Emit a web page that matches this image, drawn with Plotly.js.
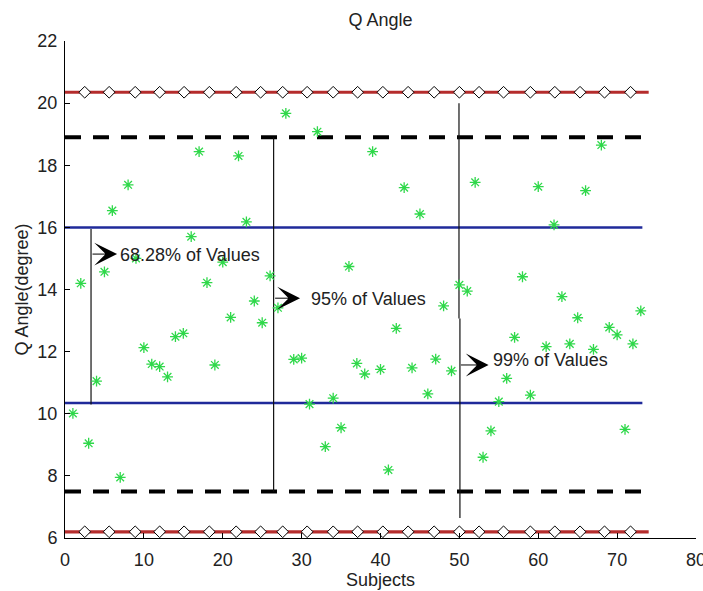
<!DOCTYPE html>
<html>
<head>
<meta charset="utf-8">
<script src="https://cdn.plot.ly/plotly-3.0.1.min.js"></script>
<style>html,body{margin:0;padding:0;background:#fff;}#chart{width:703px;height:591px;}</style>
</head>
<body>
<div id="chart"></div>
<script>
// ---- data ----
const subjects = [1,2,3,4,5,6,7,8,9,10,11,12,13,14,15,16,17,18,19,20,21,22,23,24,25,26,27,28,29,30,31,32,33,34,35,36,37,38,39,40,41,42,43,44,45,46,47,48,49,50,51,52,53,54,55,56,57,58,59,60,61,62,63,64,65,66,67,68,69,70,71,72,73];
const qAngle = [10.01,14.2,9.05,11.05,14.57,16.54,7.95,17.37,15.0,12.13,11.6,11.52,11.19,12.48,12.59,15.7,18.44,14.22,11.57,14.88,13.1,18.3,16.18,13.63,12.93,14.44,13.41,19.67,11.75,11.79,10.31,19.08,8.94,10.5,9.55,14.74,11.62,11.28,18.44,11.43,8.19,12.75,17.28,11.48,16.43,10.64,11.76,13.47,11.38,14.15,13.95,17.45,8.6,9.45,10.39,11.14,12.46,14.41,10.6,17.31,12.16,16.08,13.77,12.25,13.09,17.18,12.07,18.65,12.78,12.54,9.5,12.25,13.31];

const limits3 = [20.35, 6.2];    // red lines with diamonds
const limits3X = [0, 74];
const diamondX = [2.5,5.6,8.9,12.0,15.1,18.3,21.7,24.8,27.6,30.7,34.0,37.1,40.3,43.5,46.8,50.0,52.5,55.6,59.0,62.1,65.3,68.4,71.7];
const limits2 = [18.9, 7.5];     // black dashed lines
const limits2X = [0, 73.5];
const limits1 = [16.0, 10.35];   // blue lines
const limits1X = [0, 73.2];

// bracket lines: [x, yTop, yBottom]
const bracketX = [3.3, 26.45, 49.95, 50.07];
const bracketTop = [15.95, 18.9, 20.0, 13.07];
const bracketBottom = [10.3, 7.5, 13.07, 6.64];

// arrows and labels
const arrowTailX = [3.3, 26.45, 50.0];
const arrowHeadX = [6.6, 29.8, 53.7];
const arrowY = [15.14, 13.72, 11.57];
const labelX = [6.75, 30.9, 54.0];
const labelY = [15.12, 13.68, 11.72];
const labelText = ['68.28% of Values', '95% of Values', '99% of Values'];

const FONT = 'Liberation Sans, Arial, Helvetica, sans-serif';
const traces = [];

// red +-3 sigma lines
limits3.forEach(v => {
  traces.push({x: limits3X, y: [v, v], mode: 'lines', line: {color: '#b52c2c', width: 3.2}, hoverinfo: 'skip', showlegend: false});
  traces.push({x: diamondX, y: diamondX.map(() => v), mode: 'markers',
    marker: {symbol: 'diamond', size: 9, color: '#ffffff', line: {color: '#000000', width: 1}}, hoverinfo: 'skip', showlegend: false});
});
// dashed lines
limits2.forEach(v => {
  traces.push({x: limits2X, y: [v, v], mode: 'lines', line: {color: '#000000', width: 4, dash: '16px,12px'}, hoverinfo: 'skip', showlegend: false});
});
// blue lines
limits1.forEach(v => {
  traces.push({x: limits1X, y: [v, v], mode: 'lines', line: {color: '#1f2a9a', width: 2.5}, hoverinfo: 'skip', showlegend: false});
});
// bracket verticals
bracketX.forEach((bx, i) => {
  traces.push({x: [bx, bx], y: [bracketTop[i], bracketBottom[i]], mode: 'lines', line: {color: '#111111', width: 1.2}, hoverinfo: 'skip', showlegend: false});
});
// data points
traces.push({x: subjects, y: qAngle, mode: 'markers', name: 'Q Angle',
  marker: {symbol: 'asterisk-open', size: 9, color: '#2fd84a', line: {color: '#2fd84a', width: 1.3}}, showlegend: false});

const annotations = [];
arrowTailX.forEach((tx, i) => {
  annotations.push({x: arrowHeadX[i], y: arrowY[i], ax: tx, ay: arrowY[i], xref: 'x', yref: 'y', axref: 'x', ayref: 'y',
    text: '', showarrow: true, arrowhead: 3, arrowsize: 3.8, arrowwidth: 1, arrowcolor: '#000000', standoff: 0, startstandoff: 0});
  annotations.push({x: labelX[i], y: labelY[i], xref: 'x', yref: 'y', text: labelText[i], showarrow: false,
    xanchor: 'left', yanchor: 'middle', font: {family: FONT, size: 18, color: '#222222'}});
});

const layout = {
  width: 703, height: 591,
  margin: {l: 65, r: 7, t: 41, b: 53, pad: 0},
  paper_bgcolor: '#ffffff', plot_bgcolor: '#ffffff',
  font: {family: FONT, size: 18, color: '#222222'},
  title: {text: 'Q Angle', font: {family: FONT, size: 18, color: '#222222'}, x: 0.5413, xref: 'container', xanchor: 'center', y: 0.966, yref: 'container', yanchor: 'middle'},
  xaxis: {range: [0, 80], dtick: 10, tick0: 0, ticks: 'inside', ticklen: 5, tickcolor: '#000', showline: true, linecolor: '#000', linewidth: 1,
    showgrid: false, zeroline: false, mirror: false, ticklabelstandoff: 5, ticklabeloverflow: 'allow',
    tickfont: {family: FONT, size: 18, color: '#222222'},
    title: {text: 'Subjects', font: {family: FONT, size: 18, color: '#222222'}, standoff: 3}},
  yaxis: {range: [6, 22], dtick: 2, tick0: 6, ticks: 'inside', ticklen: 5, tickcolor: '#000', showline: true, linecolor: '#000', linewidth: 1,
    showgrid: false, zeroline: false, mirror: false, ticklabelstandoff: 3, ticklabeloverflow: 'allow',
    tickfont: {family: FONT, size: 18, color: '#222222'},
    title: {text: 'Q Angle(degree)', font: {family: FONT, size: 18, color: '#222222'}, standoff: 4}},
  annotations: annotations,
  showlegend: false
};

Plotly.newPlot('chart', traces, layout, {displayModeBar: false, staticPlot: true});
</script>
</body>
</html>
